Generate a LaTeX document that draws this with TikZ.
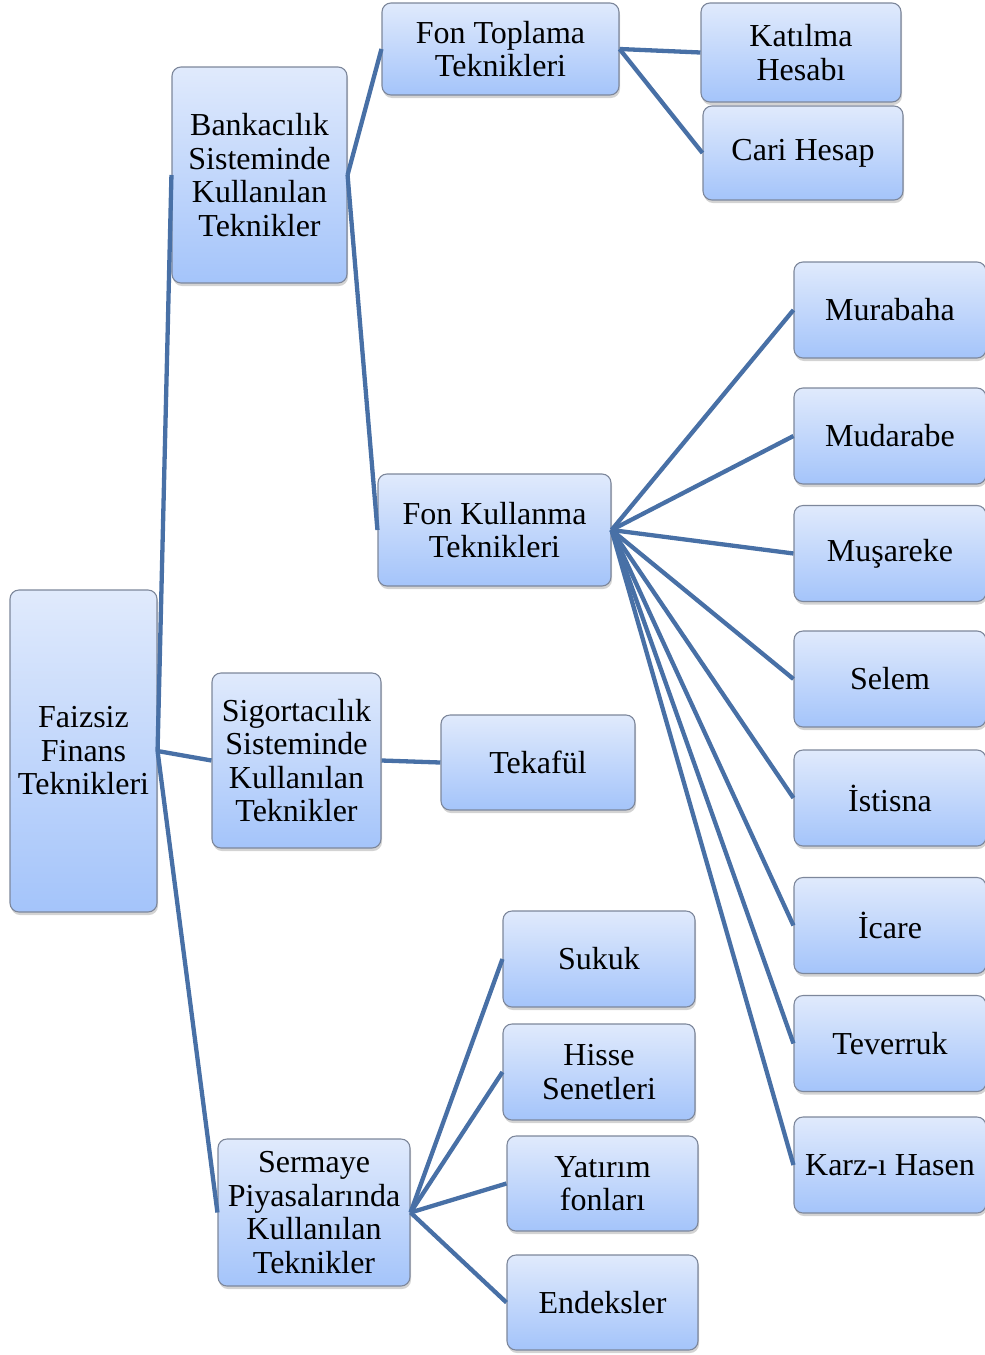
\documentclass[tikz,border=0pt]{standalone}
\usepackage{fontspec}
\setmainfont{Liberation Serif}
\usetikzlibrary{shadows}

\definecolor{boxtop}{RGB}{224,234,252}
\definecolor{boxbot}{RGB}{164,196,250}
\definecolor{boxline}{RGB}{125,135,155}
\definecolor{linkblue}{RGB}{72,112,166}

\tikzset{
  box/.style={draw=boxline, line width=1.1pt, rounded corners=9pt,
    top color=boxtop, bottom color=boxbot, align=center, inner sep=0pt,
    font=\fontsize{32}{33.5}\selectfont,
    drop shadow={opacity=0.35, shadow xshift=1pt, shadow yshift=-3pt}},
  link/.style={draw=linkblue, line width=4.3pt}
}

\begin{document}
\begin{tikzpicture}[x=1pt,y=-1pt]
\useasboundingbox (0,0) rectangle (985,1355);

% root
\node[box, minimum width=147pt, minimum height=322pt] (root) at (83.5,751) {Faizsiz\\Finans\\Teknikleri};

% second level
\node[box, minimum width=175pt, minimum height=216pt] (bank) at (259.5,175) {Bankacılık\\Sisteminde\\Kullanılan\\Teknikler};
\node[box, minimum width=169pt, minimum height=175pt] (sig) at (296.5,760.5) {Sigortacılık\\Sisteminde\\Kullanılan\\Teknikler};
\node[box, minimum width=192pt, minimum height=147pt] (serm) at (314,1212.5) {Sermaye\\Piyasalarında\\Kullanılan\\Teknikler};

% third level
\node[box, minimum width=237pt, minimum height=92pt] (topl) at (500.5,49) {Fon Toplama\\Teknikleri};
\node[box, minimum width=233pt, minimum height=112pt] (kull) at (494.5,530) {Fon Kullanma\\Teknikleri};
\node[box, minimum width=194pt, minimum height=95pt] (tek) at (538,762.5) {Tekafül};

% fund collection
\node[box, minimum width=200pt, minimum height=99pt] (kat) at (801,52.5) {Katılma\\Hesabı};
\node[box, minimum width=200pt, minimum height=94pt] (cari) at (803,153) {Cari Hesap};

% fund use
\node[box, minimum width=192pt, minimum height=96pt] (mur) at (890,310) {Murabaha};
\node[box, minimum width=192pt, minimum height=96pt] (mud) at (890,436) {Mudarabe};
\node[box, minimum width=192pt, minimum height=96pt] (mus) at (890,553.5) {Muşareke};
\node[box, minimum width=192pt, minimum height=96pt] (sel) at (890,679) {Selem};
\node[box, minimum width=192pt, minimum height=96pt] (ist) at (890,798) {İstisna};
\node[box, minimum width=192pt, minimum height=96pt] (ica) at (890,925.5) {İcare};
\node[box, minimum width=192pt, minimum height=96pt] (tev) at (890,1043.5) {Teverruk};
\node[box, minimum width=192pt, minimum height=96pt] (karz) at (890,1165) {Karz-ı Hasen};

% capital markets
\node[box, minimum width=192pt, minimum height=96pt] (suk) at (599,959) {Sukuk};
\node[box, minimum width=192pt, minimum height=96pt] (his) at (599,1072) {Hisse\\Senetleri};
\node[box, minimum width=191pt, minimum height=95pt] (yat) at (602.5,1183.5) {Yatırım\\fonları};
\node[box, minimum width=191pt, minimum height=95pt] (end) at (602.5,1302.5) {Endeksler};

% connectors
\draw[link] (root.east) -- (bank.west);
\draw[link] (root.east) -- (sig.west);
\draw[link] (root.east) -- (serm.west);

\draw[link] (bank.east) -- (topl.west);
\draw[link] (bank.east) -- (kull.west);

\draw[link] (topl.east) -- (kat.west);
\draw[link] (topl.east) -- (cari.west);

\foreach \t in {mur,mud,mus,sel,ist,ica,tev,karz}
  \draw[link] (kull.east) -- (\t.west);

\draw[link] (sig.east) -- (tek.west);

\foreach \t in {suk,his,yat,end}
  \draw[link] (serm.east) -- (\t.west);
\end{tikzpicture}
\end{document}
